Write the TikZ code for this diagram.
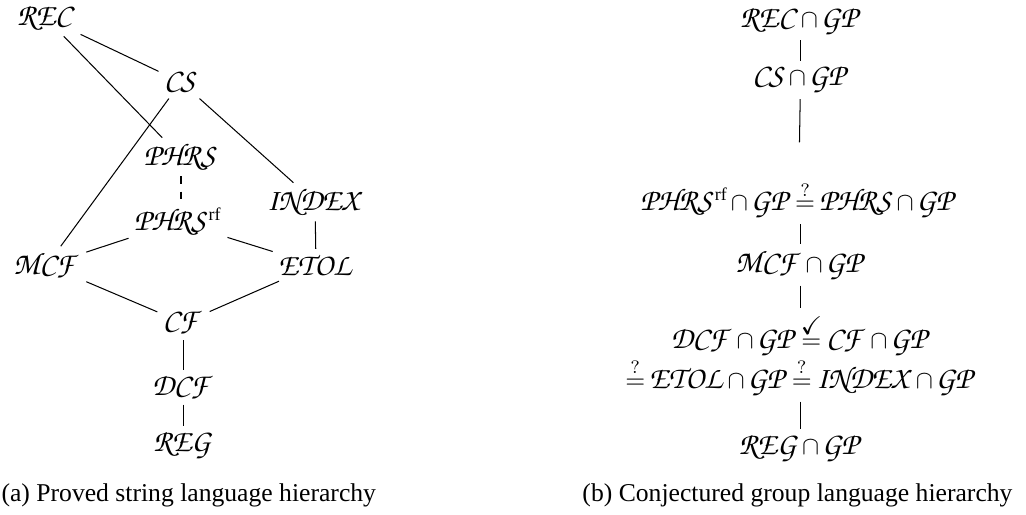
\documentclass[tikz,border=0pt]{standalone}
\usepackage{amssymb}
\usepackage{fontspec}
\setmainfont{Liberation Serif}
% calligraphic capitals from URW Chancery (Zapf Chancery clone)
\DeclareFontFamily{OT1}{pzc}{}
\DeclareFontShape{OT1}{pzc}{m}{it}{<-> s*[1.22] pzcmi7t}{}
\DeclareMathAlphabet{\mathcal}{OT1}{pzc}{m}{it}
\newcommand\GP{\mathcal{GP}}
% "rf" superscript, set a little lower than the default
\newcommand\rfsup{^{\raisebox{-2.2pt}{$\scriptstyle\mathrm{rf}$}}}
\begin{document}
\begin{tikzpicture}[x=0.39pt,y=-0.39pt,
  every node/.style={inner sep=2pt,execute at begin node={\medmuskip=2mu\thickmuskip=3mu}},
  link/.style={line width=0.4pt},
  caption/.style={inner sep=0pt}]
\useasboundingbox (0,0) rectangle (1026,514);

% (a) proved string language hierarchy
\node (rec)    at (46,18)    {$\mathcal{REC}$};
\node (cs)     at (181,82)   {$\mathcal{CS}$};
\node (phrs)   at (181,157)  {$\mathcal{PHRS}$};
\node (index)  at (315,202)  {$\mathcal{INDEX}$};
\node (phrsrf) at (178,222)  {$\mathcal{PHRS}\rfsup$};
\node (mcf)    at (47,265)   {$\mathcal{MCF}$};
\node (etol)   at (316,265)  {$\mathcal{ETOL}$};
\node (cf)     at (183.5,323) {$\mathcal{CF}$};
\node (dcf)    at (183.5,387) {$\mathcal{DCF}$};
\node (reg)    at (183.5,445) {$\mathcal{REG}$};

\draw[link] (rec) -- (cs);
\draw[link] (rec) -- (phrs);
\draw[link] (cs) -- (mcf);
\draw[link] (cs) -- (index);
\draw[link,dashed] (phrs.south) -- (phrs.south |- phrsrf.north);
\draw[link] (index) -- (etol);
\draw[link] (phrsrf) -- (mcf);
\draw[link] (phrsrf) -- (etol);
\draw[link] (mcf) -- (cf);
\draw[link] (etol) -- (cf);
\draw[link] (cf) -- (dcf);
\draw[link] (dcf) -- (reg);

% (b) conjectured group language hierarchy
\node (rec2)  at (800.5,21)  {$\mathcal{REC}\cap\GP$};
\node (cs2)   at (800.5,80)  {$\mathcal{CS}\cap\GP$};
\node (phrs2) at (798.5,200) {$\mathcal{PHRS}\rfsup\cap\GP \stackrel{?}{=} \mathcal{PHRS}\cap\GP$};
\node (mcf2)  at (800.5,265) {$\mathcal{MCF}\cap\GP$};
\node[align=center] (dcf2) at (800.5,355)
  {$\mathcal{DCF}\cap\GP \stackrel{\checkmark}{=} \mathcal{CF}\cap\GP$\\
   $\stackrel{?}{=} \mathcal{ETOL}\cap\GP \stackrel{?}{=} \mathcal{INDEX}\cap\GP$};
\node (reg2)  at (800.5,448) {$\mathcal{REG}\cap\GP$};

\draw[link] (rec2) -- (cs2);
\draw[link,shorten >=13pt] (cs2) -- (phrs2);
\draw[link] (phrs2.south -| mcf2) -- (mcf2);
\draw[link] (mcf2) -- (dcf2);
\draw[link] (dcf2) -- (reg2);

% captions
\node[caption,anchor=base west] (capa) at (1,501) {(a) Proved string language hierarchy};
\node[caption,anchor=base east] (capb) at (1013,501) {(b) Conjectured group language hierarchy};
\end{tikzpicture}
\end{document}
